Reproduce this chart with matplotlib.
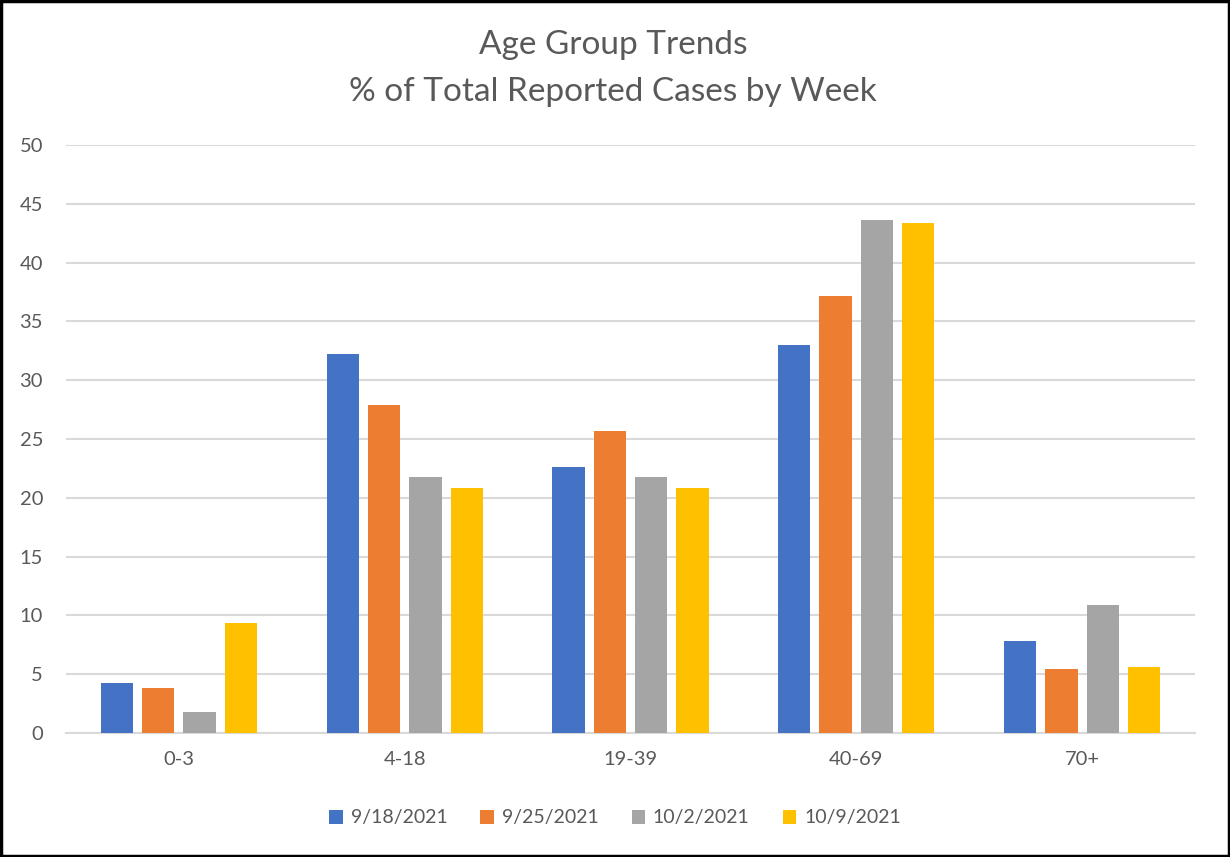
import matplotlib
matplotlib.use("Agg")
import matplotlib.pyplot as plt
import numpy as np
from matplotlib.patches import Rectangle

categories = ["0-3", "4-18", "19-39", "40-69", "70+"]
weeks = ["9/18/2021", "9/25/2021", "10/2/2021", "10/9/2021"]
w0918 = [4.25, 32.2, 22.6, 33.0, 7.8]
w0925 = [3.8, 27.9, 25.7, 37.2, 5.45]
w1002 = [1.75, 21.8, 21.8, 43.6, 10.9]
w1009 = [9.35, 20.8, 20.8, 43.4, 5.65]
series = [w0918, w0925, w1002, w1009]
colors = ["#4472C4", "#ED7D31", "#A5A5A5", "#FFC000"]

plt.rcParams['font.family'] = ['Lato', 'DejaVu Sans']
text_color = "#595959"

fig = plt.figure(figsize=(12.3, 8.57), dpi=100)
ax = fig.add_axes([66/1230, 1-733/857, 1129/1230, 588/857])

x = np.arange(len(categories))
step = 0.183
width = 0.143
for i, (vals, c, lab) in enumerate(zip(series, colors, weeks)):
    ax.bar(x + (i - 1.5) * step, vals, width, color=c, label=lab, zorder=3)

ax.set_xlim(-0.5, len(categories) - 0.5)
ax.set_ylim(0, 50)
ax.set_yticks(np.arange(0, 51, 5))
ax.set_xticks(x)
ax.set_xticklabels(categories)
ax.grid(axis='y', color="#D9D9D9", linewidth=1.5, zorder=0)
for s in ["top", "right", "left"]:
    ax.spines[s].set_visible(False)
ax.spines["bottom"].set_color("#D9D9D9")
ax.spines["bottom"].set_linewidth(1.5)
ax.tick_params(axis='both', length=0, colors=text_color, labelsize=14.5)
ax.tick_params(axis='y', pad=16.5)
ax.tick_params(axis='x', pad=13)

fig.text(613/1230, 1-45/857, "Age Group Trends", ha='center', va='center',
         fontsize=24, color=text_color)
fig.text(613/1230, 1-92/857, "% of Total Reported Cases by Week", ha='center', va='center',
         fontsize=24, color=text_color)

leg = ax.legend(loc='center', bbox_to_anchor=(615/1230, 1-818/857),
                bbox_transform=fig.transFigure, ncol=4, frameon=False,
                fontsize=14, handlelength=0.7, handleheight=0.7,
                handletextpad=0.4, columnspacing=1.7)
for t in leg.get_texts():
    t.set_color(text_color)

fig.patches.append(Rectangle((0.001, 0.001), 0.998, 0.998, transform=fig.transFigure,
                             fill=False, edgecolor='black', linewidth=2.5, zorder=10))

fig.savefig("out.png", dpi=100)
